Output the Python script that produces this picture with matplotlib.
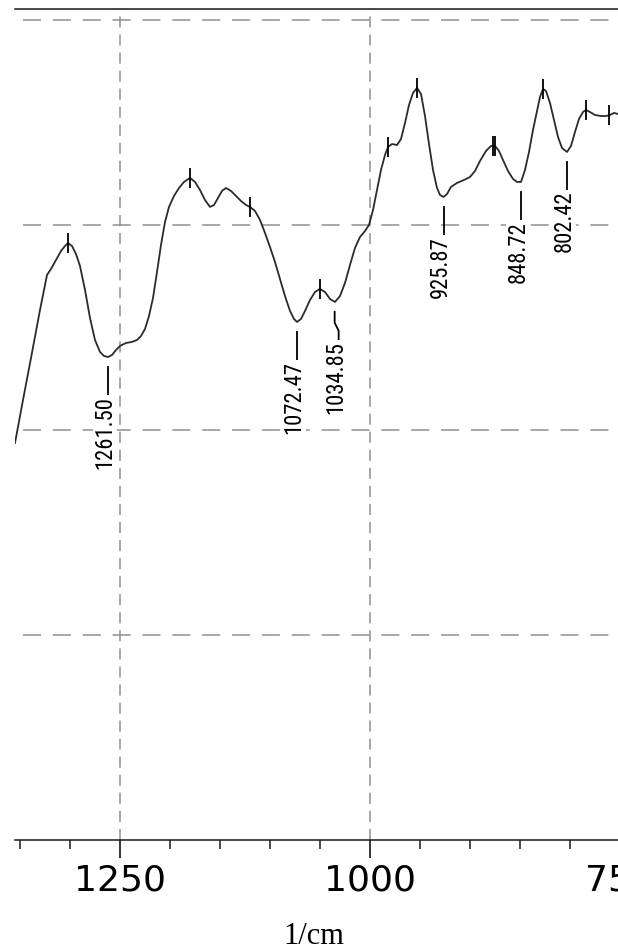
import numpy as np
import matplotlib
matplotlib.use("Agg")
import matplotlib.pyplot as plt
from matplotlib.ticker import MultipleLocator, FixedLocator
from matplotlib import font_manager as fm

plt.rcParams['lines.scale_dashes'] = False

# ---- data (wavenumber 1/cm, transmittance %) ----
wavenumber = [1354.5, 1346.5, 1338.5, 1329.5, 1322.5, 1318.5, 1313.5, 1308.5, 1304.5, 1301.5,
              1297.5, 1293.5, 1289.5, 1284.5, 1279.5, 1274.5, 1269.5, 1265.5, 1261.5, 1257.5,
              1253.5, 1249.5, 1243.5, 1237.5, 1232.5, 1228.5, 1224.5, 1220.5, 1216.5, 1212.5,
              1208.5, 1204.5, 1200.5, 1195.5, 1190.5, 1185.5, 1179.5, 1174.5, 1169.5, 1164.5,
              1159.5, 1155.5, 1151.5, 1147.5, 1143.5, 1138.5, 1133.5, 1128.5, 1123.5, 1119.5,
              1114.5, 1109.5, 1104.5, 1099.5, 1094.5, 1089.5, 1084.5, 1079.5, 1075.5, 1072.5,
              1068.5, 1064.5, 1059.5, 1054.5, 1049.5, 1044.5, 1039.5, 1034.5, 1029.5, 1024.5,
              1019.5, 1014.5, 1009.5, 1004.5, 1000.5, 996.5, 992.5, 988.5, 984.5, 981.5,
              977.5, 972.5, 968.5, 964.5, 960.5, 956.5, 952.5, 948.5, 944.5, 940.5,
              936.5, 932.5, 929.5, 926.0, 922.5, 918.5, 912.5, 905.5, 899.5, 894.5,
              889.5, 883.5, 878.5, 874.5, 870.5, 866.5, 861.5, 856.5, 852.5, 848.5,
              844.5, 840.5, 836.5, 832.5, 829.5, 826.5, 823.5, 819.5, 815.5, 811.5,
              807.5, 802.5, 798.5, 794.5, 790.5, 786.5, 783.5, 779.5, 774.5, 768.5,
              763.5, 759.5, 755.5, 751.5, 739.5]
transmittance = [38.73, 42.93, 47.02, 51.71, 55.12, 55.71, 56.59, 57.46, 57.95, 58.24,
                 57.95, 57.17, 56.00, 53.66, 50.93, 48.78, 47.61, 47.22, 47.12, 47.32,
                 47.80, 48.20, 48.49, 48.59, 48.78, 49.17, 49.85, 51.12, 52.88, 55.41,
                 58.05, 60.29, 61.76, 62.83, 63.61, 64.20, 64.59, 64.20, 63.41, 62.44,
                 61.76, 61.95, 62.63, 63.32, 63.61, 63.32, 62.83, 62.34, 61.95, 61.76,
                 61.37, 60.49, 59.22, 57.85, 56.39, 54.73, 53.07, 51.61, 50.83, 50.54,
                 50.83, 51.61, 52.68, 53.46, 53.76, 53.46, 52.78, 52.49, 53.07, 54.34,
                 56.10, 57.76, 58.83, 59.41, 60.00, 61.46, 63.41, 65.37, 66.83, 67.61,
                 67.90, 67.80, 68.39, 69.95, 71.71, 72.88, 73.37, 72.78, 70.63, 67.90,
                 65.37, 63.61, 62.93, 62.73, 63.02, 63.71, 64.10, 64.39, 64.68, 65.27,
                 66.24, 67.22, 67.71, 67.71, 67.22, 66.34, 65.27, 64.49, 64.20, 64.20,
                 65.37, 67.12, 69.27, 71.12, 72.49, 73.27, 73.07, 71.90, 70.24, 68.59,
                 67.51, 67.12, 67.71, 69.07, 70.34, 71.02, 71.22, 71.02, 70.73, 70.63,
                 70.63, 70.73, 70.93, 70.83, 70.83]

# unlabeled peak marks (wavenumbers)
peak_marks = [1301.5, 1179.5, 1119.5, 1049.5, 981.5, 952.5, 877.0, 874.5, 826.5, 783.5, 761.0]
# labeled minima
label_wn = [1261.50, 1072.47, 1034.85, 925.87, 848.72, 802.42]
label_txt = ["1261.50", "1072.47", "1034.85", "925.87", "848.72", "802.42"]

x_ticks_major = [1250, 1000, 750]
y_grid = [20, 40, 60, 80]


# ---- pick a narrow / condensed sans font if one is installed ----
def _is_narrow(f):
    n = f.name.lower()
    st = f.stretch
    narrow = ('narrow' in n) or ('condensed' in n)
    if isinstance(st, str):
        narrow = narrow or ('condensed' in st)
    else:
        try:
            narrow = narrow or int(st) < 500
        except Exception:
            pass
    w = f.weight
    try:
        w = int(w)
    except Exception:
        w = 400 if str(w).lower() in ('normal', 'regular', 'book') else 700
    return narrow and f.style == 'normal' and 350 <= w <= 450


pref = ['liberation sans narrow', 'arial narrow', 'roboto condensed', 'noto sans',
        'open sans', 'dejavu sans', 'lato', 'inter']
cands = [f for f in fm.fontManager.ttflist if _is_narrow(f) and 'mono' not in f.name.lower()
         and 'serif' not in f.name.lower()]


def _rank(f):
    n = f.name.lower()
    for i, p in enumerate(pref):
        if n.startswith(p):
            return i
    return len(pref)


cands.sort(key=_rank)
if cands:
    lab_prop = fm.FontProperties(fname=cands[0].fname)
else:
    lab_prop = fm.FontProperties(family=['Liberation Sans', 'DejaVu Sans'])

# ---- figure ----
W, H = 618, 952
fig = plt.figure(figsize=(W / 100, H / 100), dpi=100)
ax_left, ax_w = 14.5, 625.0
ax_bottom, ax_h = 840.0, 831.0
ax = fig.add_axes([ax_left / W, (H - ax_bottom) / H, ax_w / W, ax_h / H])
xlim = (1355, 730)
ylim = (0, 81.07)
ax.set_xlim(*xlim)
ax.set_ylim(*ylim)

kx = (xlim[0] - xlim[1]) / ax_w   # data units per px (x reversed)
ky = (ylim[1] - ylim[0]) / ax_h

wn = np.array(wavenumber)
tr = np.array(transmittance)

ax.plot(wn, tr, color='#2b2b2b', lw=1.3, zorder=3)

# peak marks
order = np.argsort(wn)
pk_y = np.interp(peak_marks, wn[order], tr[order])
ax.plot(peak_marks, pk_y, ls='none', marker='|', ms=14, mew=1.3, color='black', zorder=4)

# size label font so that "1261.50" is ~73 px long, as in the reference
renderer = fig.canvas.get_renderer()
probe_prop = lab_prop.copy()
probe_prop.set_size(20)
probe = fig.text(0, 0, label_txt[0], fontproperties=probe_prop)
probe_w = probe.get_window_extent(renderer).width
probe.remove()
lab_size = min(20 * 73.0 / probe_w, 19.0)
lab_prop.set_size(lab_size)

# labeled minima
gap, L = 10, 28
for v, t in zip(label_wn, label_txt):
    yv = np.interp(v, wn[order], tr[order])
    if t == "1034.85":
        xs = [v, v, v - 4 * kx, v - 4 * kx]
        ys = [yv - gap * ky, yv - (gap + 11) * ky, yv - (gap + 19) * ky, yv - (gap + L) * ky]
        tdx = 1
    else:
        xs = [v, v]
        ys = [yv - gap * ky, yv - (gap + L) * ky]
        tdx = -3
    ax.plot(xs, ys, color='black', lw=1.3, zorder=4)
    ax.text(v - tdx * kx, yv - (gap + L + 1) * ky, t, rotation=90, ha='center', va='top',
            fontproperties=lab_prop, color='black', zorder=5,
            bbox=dict(facecolor='white', edgecolor='none', pad=0.5))

# ---- axes styling ----
for s in ['left', 'right']:
    ax.spines[s].set_visible(False)
for s in ['top', 'bottom']:
    ax.spines[s].set_linewidth(1.1)
    ax.spines[s].set_color('#1a1a1a')

ax.xaxis.set_major_locator(FixedLocator(x_ticks_major))
ax.xaxis.set_minor_locator(MultipleLocator(50))
ax.tick_params(axis='x', which='major', direction='out', length=13, width=1.1,
               pad=3.6, labelsize=26, colors='black')
ax.tick_params(axis='x', which='minor', direction='out', length=6.5, width=1.1, color='#1a1a1a')
for lab in ax.get_xticklabels():
    lab.set_family('DejaVu Sans')

ax.set_yticks(y_grid)
ax.tick_params(axis='y', length=0, labelleft=False)

ax.xaxis.grid(True, which='major', color='#8f8f8f', lw=1.1, linestyle=(0, (8, 5)), zorder=1)
ax.hlines(y_grid, xmin=xlim[0] - 8 * kx, xmax=xlim[1], colors='#8f8f8f', lw=1.1,
          linestyles=[(0, (13, 8.5))], zorder=1)
ax.set_axisbelow(True)

ax.set_xlabel("1/cm", fontsize=22, family='Liberation Serif', color='black')
ax.xaxis.label.set_va('baseline')
ax.xaxis.set_label_coords((314 - ax_left) / ax_w, -(944 - ax_bottom) / ax_h)

fig.savefig("out.png", dpi=100)
